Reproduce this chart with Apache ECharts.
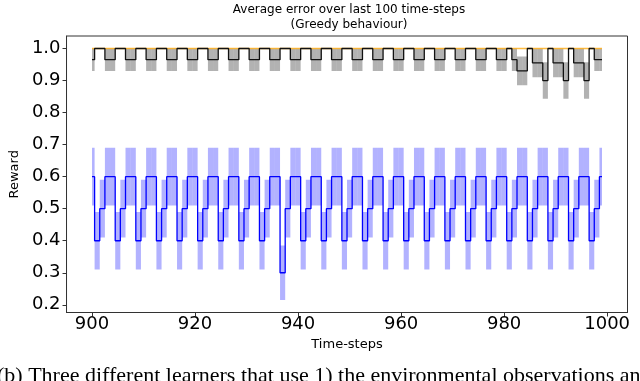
<!DOCTYPE html>
<html>
<head>
<meta charset="utf-8">
<script src="https://cdn.jsdelivr.net/npm/echarts@6/dist/echarts.min.js"></script>
<style>
  html, body { margin: 0; padding: 0; background: #fff; }
  #chart { width: 640px; height: 381px; }
</style>
</head>
<body>
<div id="chart"></div>
<script>
const FIRST_STEP = 900;

// blue learner: mean reward per time-step and half-width of its shaded band
const blueMean = [
  0.6, 0.4, 0.5, 0.6,  0.6, 0.4, 0.5, 0.6,  0.6, 0.4, 0.5, 0.6,  0.6, 0.4, 0.5, 0.6,
  0.6, 0.4, 0.5, 0.6,  0.6, 0.4, 0.5, 0.6,  0.6, 0.4, 0.5, 0.6,  0.6, 0.4, 0.5, 0.6,
  0.6, 0.4, 0.5, 0.6,  0.6, 0.3, 0.5, 0.6,  0.6, 0.4, 0.5, 0.6,  0.6, 0.4, 0.5, 0.6,
  0.6, 0.4, 0.5, 0.6,  0.6, 0.4, 0.5, 0.6,  0.6, 0.4, 0.5, 0.6,  0.6, 0.4, 0.5, 0.6,
  0.6, 0.4, 0.5, 0.6,  0.6, 0.4, 0.5, 0.6,  0.6, 0.4, 0.5, 0.6,  0.6, 0.4, 0.5, 0.6,
  0.6, 0.4, 0.5, 0.6,  0.6, 0.4, 0.5, 0.6,  0.6, 0.4, 0.5, 0.6,  0.6, 0.4, 0.5, 0.6,
  0.6, 0.4, 0.5, 0.6,
];
const blueSpread = [
  0.09, 0.09, 0.09, 0.09,  0.09, 0.09, 0.09, 0.09,  0.09, 0.09, 0.09, 0.09,  0.09, 0.09, 0.09, 0.09,
  0.09, 0.09, 0.09, 0.09,  0.09, 0.09, 0.09, 0.09,  0.09, 0.09, 0.09, 0.09,  0.09, 0.09, 0.09, 0.09,
  0.09, 0.09, 0.09, 0.09,  0.09, 0.085, 0.09, 0.09,  0.09, 0.09, 0.09, 0.09,  0.09, 0.09, 0.09, 0.09,
  0.09, 0.09, 0.09, 0.09,  0.09, 0.09, 0.09, 0.09,  0.09, 0.09, 0.09, 0.09,  0.09, 0.09, 0.09, 0.09,
  0.09, 0.09, 0.09, 0.09,  0.09, 0.09, 0.09, 0.09,  0.09, 0.09, 0.09, 0.09,  0.09, 0.09, 0.09, 0.09,
  0.09, 0.09, 0.09, 0.09,  0.09, 0.09, 0.09, 0.09,  0.09, 0.09, 0.09, 0.09,  0.09, 0.09, 0.09, 0.09,
  0.09, 0.09, 0.09, 0.09,
];

// black learner (grey band)
const blackMean = [
  0.965, 1.0, 1.0, 0.965,  0.965, 1.0, 1.0, 0.965,  0.965, 1.0, 1.0, 0.965,  0.965, 1.0, 1.0, 0.965,
  0.965, 1.0, 1.0, 0.965,  0.965, 1.0, 1.0, 0.965,  0.965, 1.0, 1.0, 0.965,  0.965, 1.0, 1.0, 0.965,
  0.965, 1.0, 1.0, 0.965,  0.965, 1.0, 1.0, 0.965,  0.965, 1.0, 1.0, 0.965,  0.965, 1.0, 1.0, 0.965,
  0.965, 1.0, 1.0, 0.965,  0.965, 1.0, 1.0, 0.965,  0.965, 1.0, 1.0, 0.965,  0.965, 1.0, 1.0, 0.965,
  0.965, 1.0, 1.0, 0.965,  0.965, 1.0, 1.0, 0.965,  0.965, 1.0, 1.0, 0.965,  0.965, 1.0, 1.0, 0.965,
  0.965, 1.0, 0.965, 0.93,  0.93, 1.0, 0.955, 0.955,  0.90, 1.0, 0.955, 0.955,  0.90, 1.0, 0.955, 0.955,
  0.90, 1.0, 0.965, 0.965,
];
const blackSpread = [
  0.035, 0, 0, 0.035,  0.035, 0, 0, 0.035,  0.035, 0, 0, 0.035,  0.035, 0, 0, 0.035,
  0.035, 0, 0, 0.035,  0.035, 0, 0, 0.035,  0.035, 0, 0, 0.035,  0.035, 0, 0, 0.035,
  0.035, 0, 0, 0.035,  0.035, 0, 0, 0.035,  0.035, 0, 0, 0.035,  0.035, 0, 0, 0.035,
  0.035, 0, 0, 0.035,  0.035, 0, 0, 0.035,  0.035, 0, 0, 0.035,  0.035, 0, 0, 0.035,
  0.035, 0, 0, 0.035,  0.035, 0, 0, 0.035,  0.035, 0, 0, 0.035,  0.035, 0, 0, 0.035,
  0.035, 0, 0.035, 0.045,  0.045, 0, 0.045, 0.045,  0.057, 0, 0.045, 0.045,  0.057, 0, 0.045, 0.045,
  0.057, 0, 0.035, 0.035,
];

// orange learner: always perfect
const orangeMean = [
  1.0, 1.0, 1.0, 1.0, 1.0, 1.0, 1.0, 1.0, 1.0, 1.0,
  1.0, 1.0, 1.0, 1.0, 1.0, 1.0, 1.0, 1.0, 1.0, 1.0,
  1.0, 1.0, 1.0, 1.0, 1.0, 1.0, 1.0, 1.0, 1.0, 1.0,
  1.0, 1.0, 1.0, 1.0, 1.0, 1.0, 1.0, 1.0, 1.0, 1.0,
  1.0, 1.0, 1.0, 1.0, 1.0, 1.0, 1.0, 1.0, 1.0, 1.0,
  1.0, 1.0, 1.0, 1.0, 1.0, 1.0, 1.0, 1.0, 1.0, 1.0,
  1.0, 1.0, 1.0, 1.0, 1.0, 1.0, 1.0, 1.0, 1.0, 1.0,
  1.0, 1.0, 1.0, 1.0, 1.0, 1.0, 1.0, 1.0, 1.0, 1.0,
  1.0, 1.0, 1.0, 1.0, 1.0, 1.0, 1.0, 1.0, 1.0, 1.0,
  1.0, 1.0, 1.0, 1.0, 1.0, 1.0, 1.0, 1.0, 1.0, 1.0,
];

const xTicks = [900, 920, 940, 960, 980, 1000];
const yTicks = [0.2, 0.3, 0.4, 0.5, 0.6, 0.7, 0.8, 0.9, 1.0];

const timeSteps = blueMean.map((_, i) => FIRST_STEP + i);
const firstStep = timeSteps[0];
const lastStep = timeSteps[timeSteps.length - 1];

function linePoints(values) {
  return values.map((v, i) => [timeSteps[i], v]);
}

function bandItems(mean, spread) {
  return mean.map((m, i) => [timeSteps[i], m - spread[i], m + spread[i]]);
}

// shaded band drawn like fill_between(step="mid")
function bandSeries(mean, spread, color) {
  return {
    type: "custom",
    clip: true,
    silent: true,
    encode: { x: 0, y: [1, 2] },
    data: bandItems(mean, spread),
    renderItem(params, api) {
      const t = api.value(0);
      const lo = api.value(1);
      const hi = api.value(2);
      if (hi - lo <= 0) {
        return null;
      }
      const topLeft = api.coord([Math.max(t - 0.5, firstStep), hi]);
      const bottomRight = api.coord([Math.min(t + 0.5, lastStep), lo]);
      return {
        type: "rect",
        shape: {
          x: topLeft[0],
          y: topLeft[1],
          width: bottomRight[0] - topLeft[0],
          height: bottomRight[1] - topLeft[1],
        },
        style: { fill: color },
      };
    },
  };
}

function stepLine(values, color, width) {
  return {
    type: "line",
    step: "middle",
    symbol: "none",
    silent: true,
    data: linePoints(values),
    lineStyle: { color, width },
  };
}

const font = "DejaVu Sans";
const chart = echarts.init(document.getElementById("chart"), null, { renderer: "canvas" });

chart.setOption({
  animation: false,
  backgroundColor: "#fff",
  title: {
    text: "Average error over last 100 time-steps\n(Greedy behaviour)",
    left: 344,
    top: -3,
    textAlign: "center",
    textStyle: {
      fontFamily: font,
      fontSize: 12,
      fontWeight: "normal",
      color: "#000",
      lineHeight: 15,
    },
  },
  grid: {
    left: 60,
    right: 12.5,
    top: 36,
    bottom: 68.5,
    show: true,
    borderColor: "#333",
    borderWidth: 1,
    backgroundColor: "transparent",
  },
  xAxis: {
    type: "value",
    min: 895.05,
    max: 1003.95,
    name: "Time-steps",
    nameLocation: "middle",
    nameGap: 22,
    nameTextStyle: { fontFamily: font, fontSize: 13, color: "#000" },
    axisLine: { show: true, lineStyle: { color: "#333", width: 1 } },
    axisTick: { show: true, length: 4, customValues: xTicks, lineStyle: { color: "#333" } },
    axisLabel: {
      customValues: xTicks,
      margin: 3,
      fontFamily: font,
      fontSize: 18,
      color: "#000",
      formatter: (v) => String(v),
    },
    splitLine: { show: false },
  },
  yAxis: {
    type: "value",
    min: 0.176,
    max: 1.039,
    name: "Reward",
    nameLocation: "middle",
    nameGap: 38,
    nameRotate: 90,
    nameTextStyle: { fontFamily: font, fontSize: 13, color: "#000" },
    axisLine: { show: true, lineStyle: { color: "#333", width: 1 } },
    axisTick: { show: true, length: 4, customValues: yTicks, lineStyle: { color: "#333" } },
    axisLabel: {
      customValues: yTicks,
      margin: 6,
      fontFamily: font,
      fontSize: 18,
      color: "#000",
      formatter: (v) => v.toFixed(1),
    },
    splitLine: { show: false },
  },
  graphic: [
    {
      type: "text",
      left: -3,
      top: 365,
      style: {
        text: "(b) Three different learners that use 1) the environmental observations and",
        font: '22px "Liberation Serif"',
        fill: "#000",
      },
    },
  ],
  series: [
    bandSeries(blueMean, blueSpread, "rgba(0, 0, 255, 0.3)"),
    bandSeries(blackMean, blackSpread, "rgba(0, 0, 0, 0.3)"),
    stepLine(orangeMean, "rgba(255, 165, 0, 0.75)", 1.5),
    stepLine(blackMean, "#111", 1.3),
    stepLine(blueMean, "#0000ff", 1.3),
  ],
});
</script>
</body>
</html>
